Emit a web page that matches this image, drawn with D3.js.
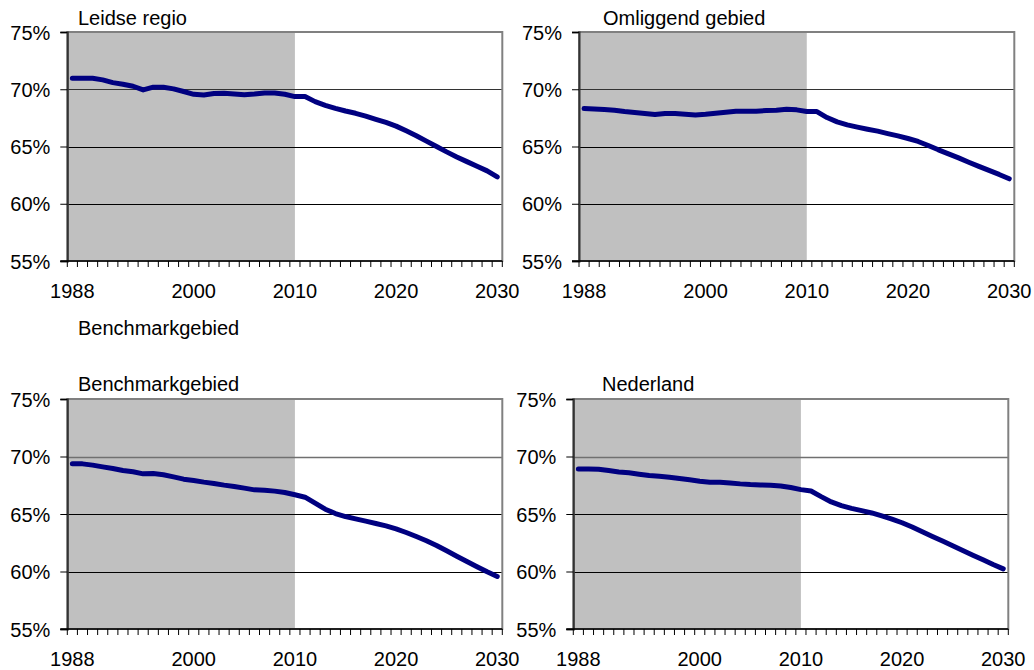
<!DOCTYPE html>
<html>
<head>
<meta charset="utf-8">
<script src="https://cdn.jsdelivr.net/npm/d3@7"></script>
<style>
  html, body { margin: 0; padding: 0; background: #fff; }
  svg { display: block; font-family: Arial, "Liberation Sans", sans-serif; }
</style>
</head>
<body>
<svg id="chart" width="1034" height="670"></svg>
<script>
// ---- DATA ----
const years = d3.range(1988, 2031); // 1988 .. 2030 categories
const xTickLabels = [1988, 2000, 2010, 2020, 2030];
const yTicks = [0.55, 0.60, 0.65, 0.70, 0.75];
const historicalEnd = 2010;

const leidseRegio = [
  70.96, 70.96, 70.96, 70.82, 70.58, 70.44, 70.26, 69.94, 70.18, 70.18,
  70.03, 69.80, 69.56, 69.50, 69.62, 69.65, 69.59, 69.53, 69.59, 69.68,
  69.68, 69.56, 69.36, 69.36, 68.92, 68.60, 68.33, 68.10, 67.90, 67.66,
  67.37, 67.10, 66.78, 66.37, 65.94, 65.47, 65.00, 64.53, 64.09, 63.68,
  63.27, 62.87, 62.34
];
const omliggendGebied = [
  68.31, 68.28, 68.23, 68.17, 68.05, 67.97, 67.88, 67.79, 67.88, 67.88,
  67.82, 67.76, 67.82, 67.91, 67.99, 68.08, 68.08, 68.08, 68.14, 68.17,
  68.26, 68.20, 68.05, 68.05, 67.53, 67.15, 66.89, 66.69, 66.51, 66.34,
  66.13, 65.93, 65.70, 65.44, 65.09, 64.71, 64.36, 64.01, 63.63, 63.26,
  62.91, 62.56, 62.18
];
const benchmarkgebied = [
  69.36, 69.36, 69.25, 69.10, 68.96, 68.78, 68.67, 68.49, 68.52, 68.41,
  68.23, 68.03, 67.91, 67.77, 67.65, 67.51, 67.39, 67.25, 67.10, 67.07,
  66.99, 66.87, 66.67, 66.46, 65.94, 65.42, 65.04, 64.78, 64.58, 64.38,
  64.17, 63.97, 63.71, 63.39, 63.04, 62.67, 62.26, 61.80, 61.33, 60.87,
  60.41, 59.97, 59.57
];
const nederland = [
  68.92, 68.92, 68.90, 68.78, 68.66, 68.58, 68.46, 68.34, 68.28, 68.20,
  68.08, 67.97, 67.85, 67.76, 67.76, 67.70, 67.62, 67.56, 67.53, 67.50,
  67.44, 67.30, 67.12, 67.00, 66.51, 66.05, 65.73, 65.49, 65.29, 65.09,
  64.83, 64.56, 64.24, 63.87, 63.46, 63.05, 62.65, 62.24, 61.83, 61.42,
  61.02, 60.61, 60.23
];
const panelTitles = ["Leidse regio", "Omliggend gebied", "Benchmarkgebied", "Nederland"];
const extraTitle = "Benchmarkgebied";

// ---- LAYOUT ----
const panels = [
  { title: panelTitles[0], values: leidseRegio,     x0: 67.3, x1: 502.3, y0: 32,  y1: 261, titleX: 78,  titleY: 25, grid70: "#333" },
  { title: panelTitles[1], values: omliggendGebied, x0: 579,  x1: 1014.3, y0: 32, y1: 261, titleX: 603, titleY: 25, grid70: "#333" },
  { title: panelTitles[2], values: benchmarkgebied, x0: 67.3, x1: 502.3, y0: 399, y1: 629, titleX: 78,  titleY: 391, grid70: "#707070" },
  { title: panelTitles[3], values: nederland,       x0: 573.3, x1: 1008.3, y0: 399, y1: 629, titleX: 602, titleY: 391, grid70: "#707070" }
];

const svg = d3.select("#chart");
const FONT = 20;

// extra floating title above the third panel
svg.append("text")
  .attr("x", 78).attr("y", 335)
  .attr("font-size", FONT).attr("fill", "#000")
  .text(extraTitle);

panels.forEach((p, pi) => {
  const g = svg.append("g");
  const x = d3.scaleBand().domain(years).range([p.x0, p.x1]).padding(0);
  const y = d3.scaleLinear().domain([0.55, 0.75]).range([p.y1, p.y0]);
  const xc = d => x(d) + x.bandwidth() / 2;

  // historical shading (left edge to centre of 2010)
  g.append("rect")
    .attr("x", p.x0).attr("y", p.y0)
    .attr("width", xc(historicalEnd) - p.x0)
    .attr("height", p.y1 - p.y0)
    .attr("fill", "#c0c0c0");

  // gridlines
  g.selectAll(".grid").data(yTicks.filter(t => t > 0.55 && t < 0.75)).join("line")
    .attr("x1", p.x0).attr("x2", p.x1)
    .attr("y1", d => Math.round(y(d)) + 0.5).attr("y2", d => Math.round(y(d)) + 0.5)
    .attr("stroke", d => Math.abs(d - 0.70) < 1e-9 ? p.grid70 : "#000")
    .attr("stroke-width", d => Math.abs(d - 0.70) < 1e-9 && pi >= 2 ? 1.6 : 1);

  // plot border (top/right grey)
  g.append("rect")
    .attr("x", p.x0).attr("y", p.y0)
    .attr("width", p.x1 - p.x0).attr("height", p.y1 - p.y0)
    .attr("fill", "none").attr("stroke", "#808080").attr("stroke-width", 2);

  // y axis
  const yAxis = d3.axisLeft(y).tickValues(yTicks).tickSize(7).tickPadding(10)
    .tickFormat(d3.format(".0%"));
  const ya = g.append("g").attr("transform", `translate(${p.x0},0)`).call(yAxis);
  ya.select(".domain").attr("stroke", "#333").attr("stroke-width", 2);
  ya.selectAll(".tick line").attr("stroke", "#000");
  ya.selectAll(".tick text").attr("font-size", FONT).attr("fill", "#000")
    .attr("font-family", "Arial, 'Liberation Sans', sans-serif").attr("dy", "0.36em");

  // x axis: ticks at category boundaries, labels at selected category centres
  const bounds = years.map(d => x(d)).concat([p.x1]);
  g.append("line")
    .attr("x1", p.x0 - 7).attr("x2", p.x1)
    .attr("y1", p.y1).attr("y2", p.y1)
    .attr("stroke", "#000").attr("stroke-width", 1.5);
  g.selectAll(".xtick").data(bounds).join("line")
    .attr("x1", d => d).attr("x2", d => d)
    .attr("y1", p.y1).attr("y2", p.y1 + 6)
    .attr("stroke", "#000").attr("stroke-width", 1);
  g.selectAll(".xlabel").data(xTickLabels).join("text")
    .attr("x", d => xc(d)).attr("y", p.y1 + 37)
    .attr("text-anchor", "middle")
    .attr("font-size", FONT).attr("fill", "#000")
    .text(d => d);

  // line
  const line = d3.line()
    .x((d, i) => xc(years[i]))
    .y(d => y(d / 100));
  g.append("path")
    .datum(p.values)
    .attr("d", line)
    .attr("fill", "none")
    .attr("stroke", "#000080")
    .attr("stroke-width", 5)
    .attr("stroke-linejoin", "round")
    .attr("stroke-linecap", "round");

  // title
  g.append("text")
    .attr("x", p.titleX).attr("y", p.titleY)
    .attr("font-size", FONT).attr("fill", "#000")
    .text(p.title);
});
</script>
</body>
</html>
